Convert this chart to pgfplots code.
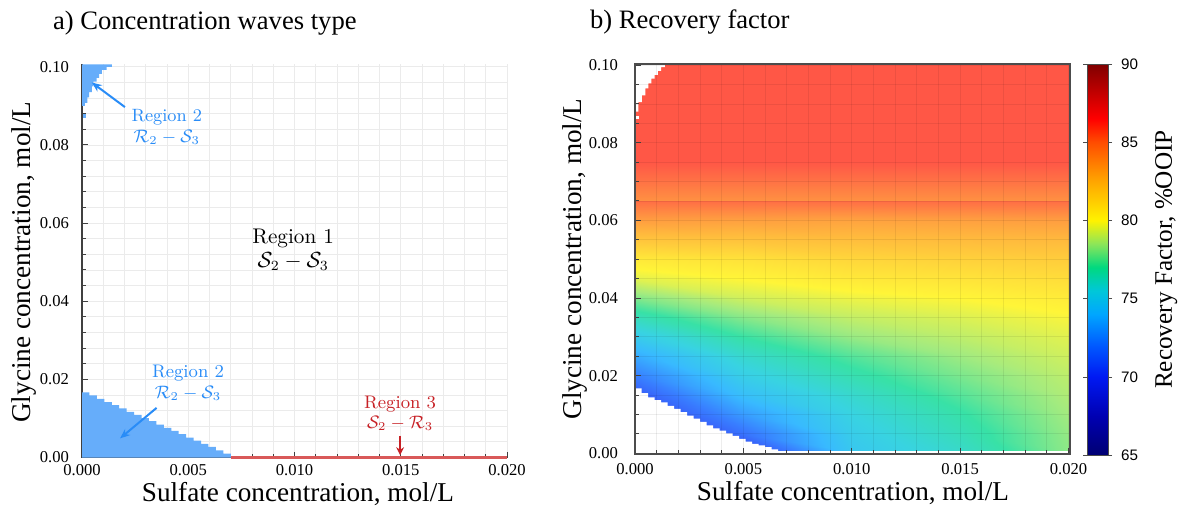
\documentclass[border=0pt]{standalone}
\usepackage[no-math]{fontspec}
\setmainfont{Liberation Serif}
\newfontfamily\sansf{Liberation Sans}
\newfontfamily\lmr{Latin Modern Roman}
\usepackage{pgfplots}
\pgfplotsset{compat=1.18}
\usetikzlibrary{arrows.meta}

\definecolor{regblue}{rgb}{0.16,0.55,0.97}
\definecolor{fillblue}{rgb}{0.40,0.68,0.98}
\definecolor{regred}{rgb}{0.78,0.13,0.15}
\definecolor{linered}{rgb}{0.85,0.35,0.35}

\newcommand\tickfont{\fontsize{8.3}{10}\selectfont}
\newcommand\labfont{\fontsize{13.6}{16}\selectfont}
\newcommand\titfont{\fontsize{13.3}{16}\selectfont}

\pgfplotsset{
 colormap={rfpastel}{rgb(0pt)=(0.22,0.22,0.571) rgb(25pt)=(0.22,0.22,0.766) rgb(50pt)=(0.22,0.298,0.961) rgb(70pt)=(0.22,0.493,1) rgb(90pt)=(0.22,0.727,1) rgb(105pt)=(0.22,0.828,0.883) rgb(120pt)=(0.22,0.883,0.65) rgb(135pt)=(0.649,0.922,0.493) rgb(150pt)=(1,0.961,0.22) rgb(175pt)=(1,0.727,0.24) rgb(200pt)=(1,0.454,0.27) rgb(215pt)=(1,0.24,0.28) rgb(250pt)=(0.61,0.22,0.22)},
 colormap={rfmap}{rgb(0pt)=(0,0,0.45) rgb(25pt)=(0,0,0.7) rgb(50pt)=(0,0.1,0.95) rgb(70pt)=(0,0.35,1) rgb(90pt)=(0,0.65,1) rgb(105pt)=(0,0.78,0.85) rgb(120pt)=(0,0.85,0.5) rgb(135pt)=(0.55,0.9,0.35) rgb(150pt)=(1,0.95,0) rgb(175pt)=(1,0.65,0) rgb(200pt)=(1,0.3,0) rgb(215pt)=(1,0,0) rgb(250pt)=(0.5,0,0)},
}

\pgfplotstableread{
x y rf
0 0.0006 66
0.005 0.0006 69.5
0.010 0.0006 74.8
0.015 0.0006 76.1
0.02007 0.0006 78.2
0 0.005 68
0.005 0.005 71.5
0.010 0.005 75.1
0.015 0.005 76.5
0.02007 0.005 78.3
0 0.010 69.3
0.005 0.010 73
0.010 0.010 75.5
0.015 0.010 76.9
0.02007 0.010 78.5
0 0.015 70.5
0.005 0.015 74.3
0.010 0.015 76
0.015 0.015 77.4
0.02007 0.015 78.7
0 0.020 72
0.005 0.020 75.2
0.010 0.020 76.7
0.015 0.020 77.9
0.02007 0.020 78.9
0 0.025 73.5
0.005 0.025 76
0.010 0.025 77.4
0.015 0.025 78.4
0.02007 0.025 79.2
0 0.030 75
0.005 0.030 77
0.010 0.030 78.3
0.015 0.030 78.9
0.02007 0.030 79.5
0 0.035 76.5
0.005 0.035 78.1
0.010 0.035 79
0.015 0.035 79.4
0.02007 0.035 79.9
0 0.040 78
0.005 0.040 79.2
0.010 0.040 79.7
0.015 0.040 80
0.02007 0.040 80.4
0 0.045 79.5
0.005 0.045 80
0.010 0.045 80.5
0.015 0.045 80.7
0.02007 0.045 81
0 0.050 80.5
0.005 0.050 80.8
0.010 0.050 81.3
0.015 0.050 81.5
0.02007 0.050 81.7
0 0.055 82
0.005 0.055 82.1
0.010 0.055 82.3
0.015 0.055 82.4
0.02007 0.055 82.5
0 0.060 83.5
0.005 0.060 83.4
0.010 0.060 83.3
0.015 0.060 83.4
0.02007 0.060 83.5
0 0.0651 85.2
0.005 0.0651 85.2
0.010 0.0651 85.2
0.015 0.0651 85.2
0.02007 0.0651 85.2
0 0.0653 84
0.005 0.0653 84
0.010 0.0653 84
0.015 0.0653 84
0.02007 0.0653 84
0 0.070 85
0.005 0.070 85
0.010 0.070 85
0.015 0.070 85
0.02007 0.070 85
0 0.075 85.8
0.005 0.075 85.8
0.010 0.075 85.8
0.015 0.075 85.8
0.02007 0.075 85.8
0 0.1003 85.8
0.005 0.1003 85.8
0.010 0.1003 85.8
0.015 0.1003 85.8
0.02007 0.1003 85.8
}\rfdata

\begin{document}
\begin{tikzpicture}
\path[use as bounding box] (0,0) rectangle (593pt,260pt);

% ---------------- left panel ----------------
\begin{axis}[
 at={(41pt,31.25pt)}, anchor=south west,
 scale only axis, width=212.5pt, height=196.5pt,
 xmin=0, xmax=0.02, ymin=0, ymax=0.1006,
 clip=false,
 axis x line*=bottom, axis y line*=left,
 axis line style={black!75, line width=0.6pt},
 xtick={0,0.005,0.01,0.015,0.02}, ytick={0,0.02,0.04,0.06,0.08,0.1},
 minor x tick num=4, minor y tick num=4,
 scaled x ticks=false, scaled y ticks=false,
 tick align=inside, major tick length=3pt, minor tick length=2pt,
 tick style={black!75, line width=0.5pt},
 grid=both, major grid style={black!8, line width=0.4pt}, minor grid style={black!8, line width=0.4pt},
 /pgf/number format/assume math mode=true,
 tick label style={font=\tickfont},
 xticklabel style={/pgf/number format/.cd, fixed, fixed zerofill, precision=3},
 yticklabel style={xshift=-3pt, /pgf/number format/.cd, fixed, fixed zerofill, precision=2},
 xlabel={Sulfate concentration, mol/L},
 ylabel={Glycine concentration, mol/L},
 label style={font=\labfont},
 xlabel style={at={([yshift=-18.5pt]axis description cs:0.508,0)}, anchor=center},
 ylabel style={at={([xshift=-29pt]axis description cs:0,0.497)}, anchor=center},
 title={a) Concentration waves type},
 title style={font=\titfont, at={([yshift=14.7pt]axis description cs:0.289,1)}, anchor=center},
]
\addplot[const plot, fill=fillblue, draw=none] coordinates {
(0,0.0167) (0.00035,0.0159) (0.0007,0.0150) (0.00105,0.0142) (0.0014,0.0134)
(0.00175,0.0126) (0.0021,0.0117) (0.00245,0.0109) (0.0028,0.0101) (0.00315,0.0093)
(0.0035,0.0084) (0.00385,0.0076) (0.0042,0.0068) (0.00455,0.0060) (0.0049,0.0051)
(0.00525,0.0043) (0.0056,0.0035) (0.00595,0.0027) (0.0063,0.0018) (0.00665,0.0010)
(0.0070,0.0010)} \closedcycle;
\addplot[fill=fillblue, draw=none] coordinates {
(0,0.1006) (0.0014,0.1006) (0.0014,0.1000) (0.00116,0.1000) (0.00116,0.0992)
(0.00093,0.0992) (0.00093,0.0982) (0.0008,0.0982) (0.0008,0.0972) (0.00069,0.0972)
(0.00069,0.0962) (0.00053,0.0962) (0.00053,0.0950) (0.00046,0.0950) (0.00046,0.0935)
(0.00034,0.0935) (0.00034,0.0922) (0.00025,0.0922) (0.00025,0.0908) (0.00014,0.0908)
(0.00014,0.0900) (0,0.0900)} -- cycle;
\addplot[fill=fillblue, draw=none] coordinates {
(0.00004,0.0870) (0.00019,0.0870) (0.00019,0.0879) (0.00004,0.0879)} -- cycle;
\addplot[linered, line width=1.4pt] coordinates {(0.0070,0) (0.02,0)};

\node[regblue, font=\lmr\fontsize{8.9}{10.5}\selectfont, align=center] at (axis cs:0.00399,0.0847) {Region 2\\$\mathcal{R}_2-\mathcal{S}_3$};
\draw[regblue, line width=1pt, -{Stealth[length=5pt,width=4pt]}] (axis cs:0.00202,0.0897) -- (axis cs:0.00046,0.0960);
\node[regblue, font=\lmr\fontsize{9.1}{10.3}\selectfont, align=center] at (axis cs:0.00499,0.0192) {Region 2\\$\mathcal{R}_2-\mathcal{S}_3$};
\draw[regblue, line width=1pt, -{Stealth[length=5pt,width=4pt]}] (axis cs:0.00351,0.0127) -- (axis cs:0.00179,0.0049);
\node[black, font=\lmr\fontsize{10.6}{12}\selectfont, align=center] at (axis cs:0.00994,0.0531) {Region 1\\$\mathcal{S}_2-\mathcal{S}_3$};
\node[regred, font=\lmr\fontsize{9.1}{10}\selectfont, align=center] at (axis cs:0.01497,0.0112) {Region 3\\$\mathcal{S}_2-\mathcal{R}_3$};
\draw[regred, line width=1pt, -{Stealth[length=4pt,width=4pt]}] (axis cs:0.01497,0.0056) -- (axis cs:0.01497,0.0006);
\end{axis}

% ---------------- right panel ----------------
\begin{axis}[
 at={(317.5pt,33pt)}, anchor=south west,
 scale only axis, width=217.5pt, height=195pt,
 xmin=0, xmax=0.02007, ymin=-0.0002, ymax=0.1003,
 axis on top,
 axis line style={black!70, line width=0.6pt},
 xtick={0,0.005,0.01,0.015,0.02}, ytick={0,0.02,0.04,0.06,0.08,0.1},
 minor x tick num=4, minor y tick num=3,
 scaled x ticks=false, scaled y ticks=false,
 tick pos=left, tick align=inside, major tick length=3pt, minor tick length=2pt,
 tick style={black!75, line width=0.5pt},
 grid=both,
 major grid style={draw=black, draw opacity=0.07, line width=0.4pt},
 minor grid style={draw=black, draw opacity=0.07, line width=0.4pt},
 /pgf/number format/assume math mode=true,
 tick label style={font=\tickfont},
 xticklabel style={yshift=-1pt, /pgf/number format/.cd, fixed, fixed zerofill, precision=3},
 yticklabel style={xshift=-5pt, /pgf/number format/.cd, fixed, fixed zerofill, precision=2},
 xlabel={Sulfate concentration, mol/L},
 ylabel={Glycine concentration, mol/L},
 label style={font=\labfont},
 xlabel style={at={([yshift=-19.5pt]axis description cs:0.501,0)}, anchor=center},
 ylabel style={at={([xshift=-30pt]axis description cs:0,0.5)}, anchor=center},
 title={b) Recovery factor},
 title style={font=\titfont, at={([yshift=15.2pt]axis description cs:0.126,1)}, anchor=center},
 colormap name=rfmap,
 point meta min=65, point meta max=90,
 colorbar,
 colorbar style={
   at={([xshift=11pt,yshift=1.2pt]parent axis.north east)}, anchor=north west,
   scale only axis, width=10.5pt, height=195.5pt,
   ytick={65,70,75,80,85,90},
   /pgf/number format/assume math mode=true,
   yticklabel style={font=\sansf\fontsize{7.6}{9}\selectfont, xshift=1pt},
   tick align=outside, major tick length=2pt,
   tick style={black!70},
   axis line style={black!70},
   every axis y label/.style={at={([xshift=29pt]axis description cs:1,0.5)}, anchor=center, rotate=90, font=\fontsize{12.6}{15}\selectfont},
   ylabel={Recovery Factor, \%OOIP},
 },
]
\addplot[surf, shader=interp, mesh/cols=5, point meta=explicit, colormap name=rfpastel] table[x=x, y=y, meta=rf] {\rfdata};
\addplot[fill=white, draw=none] coordinates {
(0,0.1003) (0.00138,0.1003) (0.00138,0.0995) (0.00120,0.0995) (0.00120,0.0985)
(0.00105,0.0985) (0.00105,0.0975) (0.00090,0.0975) (0.00090,0.0965) (0.00075,0.0965)
(0.00075,0.0953) (0.00062,0.0953) (0.00062,0.0940) (0.00048,0.0940) (0.00048,0.0922)
(0.00032,0.0922) (0.00032,0.0905) (0.00015,0.0905) (0.00015,0.0880) (0,0.0880)} -- cycle;
\addplot[fill=white, draw=none] coordinates {
(0,0.0860) (0.00018,0.0860) (0.00018,0.0868) (0,0.0868)} -- cycle;
\addplot[const plot, fill=white, draw=none] coordinates {
(0,0.0167) (0.0003,0.0155) (0.0006,0.0144) (0.0009,0.0137) (0.0012,0.0131)
(0.0015,0.0122) (0.0018,0.0114) (0.0021,0.0106) (0.0024,0.0097) (0.0027,0.0089)
(0.0030,0.0081) (0.0033,0.0072) (0.0036,0.0064) (0.0039,0.0058) (0.0042,0.0051)
(0.0045,0.0045) (0.0048,0.0037) (0.0051,0.0030) (0.0054,0.0024) (0.0057,0.0020)
(0.0060,0.0016) (0.0063,0.0010) (0.0066,0.0010)} \closedcycle;
\end{axis}
\end{tikzpicture}
\end{document}
